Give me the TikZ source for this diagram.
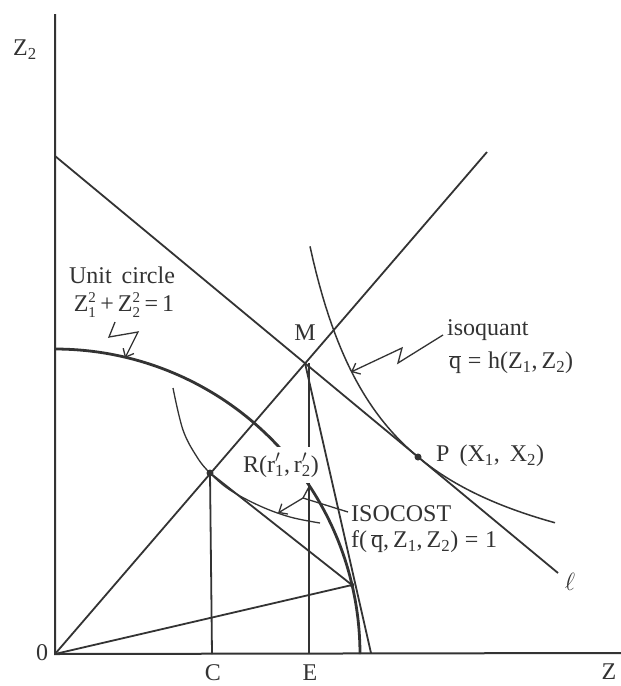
\documentclass[tikz,border=0pt]{standalone}
\usepackage{fontspec}
\setmainfont{Liberation Serif}
\usetikzlibrary{arrows.meta}
\definecolor{ink}{HTML}{333333}
\newcommand\smallnum[1]{\mbox{\fontsize{15}{15}\selectfont #1}}
\newcommand\zsq[1]{$\mbox{Z}^{\smallnum{2}}_{\smallnum{#1}}$}
\newcommand\qbar{$\overline{\mbox{q}}$}
\newcommand\primsub[1]{\rlap{\raisebox{0.1ex}{$'$}}\textsubscript{#1}}
\begin{document}
\begin{tikzpicture}[x=1pt,y=-1pt,
  lbl/.style={font=\fontsize{24}{26}\selectfont, text=ink, inner sep=1pt},
  ln/.style={draw=ink, line width=1.8pt},
  thinc/.style={draw=ink, line width=1.3pt},
  ptr/.style={draw=ink, line width=1.3pt, line join=miter},
  arr/.style={ptr, -{Straight Barb[length=7pt,width=12pt,line width=1.3pt]}},
  dotm/.style={circle, fill=ink, inner sep=0pt, minimum size=7pt}]
\useasboundingbox (0,0) rectangle (621,686);
\fill[white] (0,0) rectangle (621,686);

% key points
\coordinate (O) at (55,654);
\coordinate (Ytop) at (55,14);
\coordinate (Xend) at (621,653);
\coordinate (L0) at (55,156);
\coordinate (L1) at (558,573);
\coordinate (M) at (305,363);
\coordinate (Rayend) at (487,152);
\coordinate (T) at (371,653);
\coordinate (Cf) at (212,654);
\coordinate (Ef) at (309,654);
\coordinate (Et) at (309,363);
\node[dotm] (R) at (210,473) {};
\node[dotm] (P) at (418,457) {};
\node[dotm, minimum size=4.5pt] (S) at (352,585) {};

% axes
\draw[ln, line width=2pt] (Ytop) -- (O) -- (Xend);
% budget line l
\draw[ln] (L0) -- (L1);
% ray
\draw[ln] (O) -- (Rayend);
% verticals
\draw[ln] (R.center) -- (Cf);
\draw[ln] (Et) -- (Ef);
% tangent M-T, R-S, O-S
\draw[ln] (M) -- (T);
\draw[ln] (R.center) -- (S.center);
\draw[ln] (O) -- (S.center);

% unit circle
\draw[draw=ink, line width=2.8pt] plot[domain=90:0, samples=80] ({55+305*cos(\x)}, {654-305*sin(\x)});

% isoquant
\draw[ln, line width=1.5pt] plot[domain=310:555, samples=80] (\x, {654-(41+293.3/((\x-230)/100))});

% isocost curve through R
\draw[thinc] plot[smooth, tension=0.6] coordinates {(173,388) (183,430) (197,457) (210,473) (230,490) (260,506) (290,517) (320,523)};

% labels
\node[lbl, fill=white, inner sep=0pt, minimum height=36pt] (Rl) at (281,465) {R(r\primsub{1},\,r\primsub{2})};
\node[lbl] (Z2) at (25,50) {Z\textsubscript{2}};
\node[lbl] (zero) at (42,653) {0};
\node[lbl] (Cl) at (213,673) {C};
\node[lbl] (El) at (310,673) {E};
\node[lbl] (Zl) at (609,672) {Z};
\node[lbl] (Ml) at (305,333) {M};
\node[lbl] (uc) at (122,275) {Unit\, circle};
\node[lbl] (uceq) at (124,305) {\zsq{1}\,+\,\zsq{2}\,=\,1};
\node[lbl, anchor=west] (iq) at (446,330) {isoquant};
\node[lbl, anchor=west] (iqeq) at (448,363) {\qbar\;=\;h(Z\textsubscript{1},\,Z\textsubscript{2})};
\node[lbl, anchor=west] (Pl) at (435,456) {P\, (X\textsubscript{1},\, X\textsubscript{2})};
\node[lbl, anchor=west] (ic) at (350,514) {ISOCOST};
\node[lbl, anchor=west] (iceq) at (350,542) {f(\,\qbar,\,Z\textsubscript{1},\,Z\textsubscript{2})\;=\;1};
\node[lbl] (ell) at (570,582) {$\ell$};

% pointers
\coordinate (u0) at (115,322);
\coordinate (u1) at (109,337);
\coordinate (u2) at (138,332);
\coordinate (u3) at (125,358);
\draw[arr] (u0) -- (u1) -- (u2) -- (u3);
\coordinate (q0) at (443,335);
\coordinate (q1) at (398,363);
\coordinate (q2) at (402,348);
\coordinate (q3) at (351,372);
\draw[arr] (q0) -- (q1) -- (q2) -- (q3);
\coordinate (c0) at (348,512);
\coordinate (c1) at (303,498);
\coordinate (c2) at (278,513);
\coordinate (c3) at (310,485);
\draw[arr] (c0) -- (c1) -- (c2);
\draw[ptr] (c1) -- (c3);
\end{tikzpicture}
\end{document}
